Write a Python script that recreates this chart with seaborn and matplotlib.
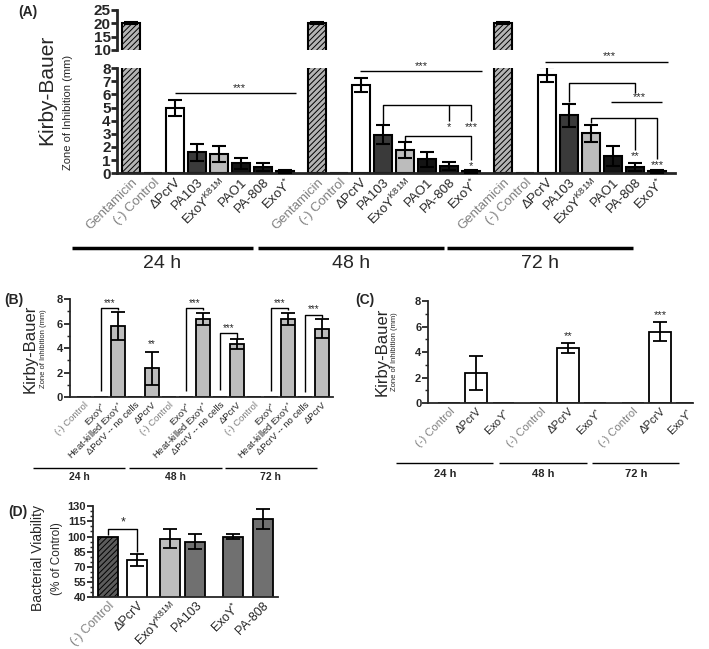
import numpy as np
import pandas as pd
import seaborn as sns
import matplotlib.pyplot as plt
from matplotlib.ticker import MultipleLocator

sns.set_theme(style="ticks")
plt.rcParams['font.family'] = ['Liberation Sans', 'DejaVu Sans']
plt.rcParams['mathtext.fontset'] = 'custom'
plt.rcParams['mathtext.rm'] = 'Liberation Sans'
plt.rcParams['mathtext.it'] = 'Liberation Sans:italic'
plt.rcParams['mathtext.bf'] = 'Liberation Sans:bold'
plt.rcParams['hatch.linewidth'] = 0.7

# ---- dados painel A (Kirby-Bauer, 24/48/72 h) ----
A_STRAINS = ["Gentamicin", "(-) Control", "ΔPcrV", "PA103", "ExoY K81M", "PAO1", "PA-808", "ExoY*"]
A_LABELS = ["Gentamicin", "(-) Control", "ΔPcrV", "PA103", "ExoY$^{\\mathrm{K81M}}$", "PAO1", "PA-808", "ExoY$^{*}$"]
A_24 = [20.0, 0.0, 4.95, 1.6, 1.45, 0.75, 0.5, 0.15]
A_24_ERR = [0.3, 0.0, 0.6, 0.65, 0.6, 0.4, 0.3, 0.1]
A_48 = [20.0, 0.0, 6.7, 2.95, 1.75, 1.05, 0.53, 0.15]
A_48_ERR = [0.3, 0.0, 0.55, 0.7, 0.6, 0.55, 0.3, 0.1]
A_72 = [20.0, 0.0, 7.5, 4.4, 3.05, 1.3, 0.5, 0.15]
A_72_ERR = [0.3, 0.0, 0.55, 0.9, 0.65, 0.75, 0.3, 0.1]
TIMES = ["24 h", "48 h", "72 h"]

# ---- painel B ----
B_STRAINS = ["(-) Control", "ExoY$^{*}$", "Heat-killed ExoY$^{*}$", "ΔPcrV -- no cells", "ΔPcrV"]
B_24 = [0.0, 0.0, 5.8, 0.0, 2.35]
B_24_ERR = [0.0, 0.0, 1.15, 0.0, 1.35]
B_48 = [0.0, 0.0, 6.4, 0.0, 4.35]
B_48_ERR = [0.0, 0.0, 0.5, 0.0, 0.4]
B_72 = [0.0, 0.0, 6.4, 0.0, 5.6]
B_72_ERR = [0.0, 0.0, 0.5, 0.0, 0.75]

# ---- painel C ----
C_STRAINS = ["(-) Control", "ΔPcrV", "ExoY$^{*}$"]
C_24 = [0.0, 2.35, 0.0]
C_24_ERR = [0.0, 1.35, 0.0]
C_48 = [0.0, 4.35, 0.0]
C_48_ERR = [0.0, 0.4, 0.0]
C_72 = [0.0, 5.6, 0.0]
C_72_ERR = [0.0, 0.75, 0.0]

# ---- painel D (viabilidade) ----
D_STRAINS = ["(-) Control", "ΔPcrV", "ExoY K81M", "PA103", "ExoY*", "PA-808"]
D_LABELS = ["(-) Control", "ΔPcrV", "ExoY$^{\\mathrm{K81M}}$", "PA103", "ExoY$^{*}$", "PA-808"]
D_VAL = [100.0, 77.0, 98.0, 95.0, 100.0, 117.0]
D_ERR = [0.0, 6.0, 9.5, 7.0, 2.7, 10.0]

A_COLORS = {"Gentamicin": "#b4b4b4", "(-) Control": "white", "ΔPcrV": "white", "PA103": "#3a3a3a",
            "ExoY K81M": "#bcbcbc", "PAO1": "#141414", "PA-808": "#141414", "ExoY*": "#141414"}
D_COLORS = {"(-) Control": "#5c5c5c", "ΔPcrV": "white", "ExoY K81M": "#bdbdbd",
            "PA103": "#707070", "ExoY*": "#707070", "PA-808": "#707070"}
GRAY_TXT = "#808080"


def bars(ax, df, width, palette=None, color=None, lw=1.5):
    w = width / np.diff(np.unique(df["pos"])).min()
    if palette is not None:
        sns.barplot(data=df, x="pos", y="val", hue="strain", palette=palette, dodge=False,
                    native_scale=True, width=w, saturation=1, edgecolor="black",
                    linewidth=lw, legend=False, errorbar=None, ax=ax)
    else:
        sns.barplot(data=df, x="pos", y="val", color=color, native_scale=True, width=w,
                    saturation=1, edgecolor="black", linewidth=lw, errorbar=None, ax=ax)
    m = df["err"] > 0
    ax.errorbar(df.loc[m, "pos"], df.loc[m, "val"], yerr=df.loc[m, "err"], fmt="none",
                ecolor="black", elinewidth=lw, capsize=5, capthick=lw, zorder=3)


def line(ax, pts, lw=1.0):
    xs, ys = zip(*pts)
    ax.plot(xs, ys, color="black", lw=lw, clip_on=False, solid_capstyle="butt")


def star(ax, x, y, s, va="bottom", fs=8):
    ax.text(x, y, s, ha="center", va=va, fontsize=fs, clip_on=False)


def style_axis(ax, xlim, lw=1.5, ysize=8):
    sns.despine(ax=ax)
    ax.set_xlim(*xlim)
    ax.set_xlabel("")
    ax.set_ylabel("")
    for s in ("left", "bottom"):
        ax.spines[s].set_linewidth(lw)
    ax.tick_params(axis="y", width=lw, length=4, labelsize=ysize, pad=1)
    ax.tick_params(axis="y", which="minor", width=lw * 0.8, length=2.5)
    ax.tick_params(axis="x", length=0, pad=2)
    for t in ax.get_yticklabels():
        t.set_fontweight("bold")


def groups(ax, spans, y_line, y_text, fs, lw, bold=False):
    tr = ax.get_xaxis_transform()
    for (x0, x1), lab in zip(spans, TIMES):
        ax.plot([x0, x1], [y_line, y_line], color="black", lw=lw, transform=tr,
                clip_on=False, solid_capstyle="butt")
        ax.text((x0 + x1) / 2, y_text, lab, transform=tr, ha="center", va="center",
                fontsize=fs, fontweight="bold" if bold else "normal")


fig = plt.figure(figsize=(7.09, 6.49), dpi=100)

# ================= (A) =================
A_GAP = 8.45
df_a = pd.DataFrame({
    "pos": [i + g * A_GAP for g in range(3) for i in range(8)],
    "val": A_24 + A_48 + A_72,
    "err": A_24_ERR + A_48_ERR + A_72_ERR,
    "strain": A_STRAINS * 3,
})
axA_top = fig.add_axes([0.165, 0.923, 0.787, 0.062])
axA = fig.add_axes([0.165, 0.733, 0.787, 0.162])
for ax in (axA_top, axA):
    bars(ax, df_a, 0.83, palette=A_COLORS)
    for p in ax.patches:
        cx = p.get_x() + p.get_width() / 2
        if np.min(np.abs(cx - np.array([0, A_GAP, 2 * A_GAP]))) < 0.05:
            p.set_hatch("//////")

axA_top.set_ylim(10, 25)
axA_top.set_yticks([10, 15, 20, 25])
style_axis(axA_top, (-0.64, 24.7), lw=2, ysize=11)
axA_top.spines["bottom"].set_visible(False)
axA_top.set_xticks([])

axA.set_ylim(0, 8)
axA.set_yticks(range(9))
axA.set_xticks(df_a["pos"], labels=A_LABELS * 3, rotation=45, ha="right",
               rotation_mode="anchor", fontsize=9.5)
style_axis(axA, (-0.64, 24.7), lw=2, ysize=11)
axA.tick_params(axis="y", pad=0.5)
axA_top.tick_params(axis="y", pad=0.5)
for t, s in zip(axA.get_xticklabels(), A_STRAINS * 3):
    if s in ("Gentamicin", "(-) Control"):
        t.set_color(GRAY_TXT)

groups(axA, [(-2.7, 5.55), (5.77, 14.2), (14.36, 22.8)], -0.714, -0.86, 14, 2.5)


def xa(g, i):
    return i + g * A_GAP


# 24 h
line(axA, [(xa(0, 2), 6.1), (xa(0, 7) + 0.5, 6.1)])
star(axA, 4.9, 6.1, "***")
# 48 h
line(axA, [(xa(1, 2) - 0.05, 7.8), (xa(1, 7) + 0.5, 7.8)])
star(axA, 13.2, 7.8, "***")
line(axA, [(xa(1, 3), 3.75), (xa(1, 3), 5.2), (xa(1, 7), 5.2), (xa(1, 7), 4.0)])
line(axA, [(xa(1, 6), 5.2), (xa(1, 6), 4.0)])
star(axA, xa(1, 6), 3.9, "*", va="top")
star(axA, xa(1, 7), 3.9, "***", va="top")
line(axA, [(xa(1, 4), 2.45), (xa(1, 4), 2.8), (xa(1, 7), 2.8), (xa(1, 7), 1.0)])
star(axA, xa(1, 7), 0.9, "*", va="top")
# 72 h
line(axA, [(xa(2, 2) - 0.1, 8.5), (xa(2, 7) + 0.5, 8.5)])
star(axA, 21.7, 8.5, "***")
line(axA, [(xa(2, 3), 5.45), (xa(2, 3), 6.9), (xa(2, 6), 6.9), (xa(2, 6), 6.1)])
line(axA, [(21.8, 5.4), (24.1, 5.4)])
star(axA, xa(2, 6) + 0.2, 5.4, "***")
line(axA, [(xa(2, 4), 3.8), (xa(2, 4), 4.2), (xa(2, 7), 4.2), (xa(2, 7), 1.05)])
line(axA, [(xa(2, 6), 4.2), (xa(2, 6), 1.75)])
star(axA, xa(2, 6), 1.7, "**", va="top")
star(axA, xa(2, 7), 1.0, "***", va="top")

fig.text(0.066, 0.861, "Kirby-Bauer", rotation=90, ha="center", va="center", fontsize=15)
fig.text(0.096, 0.826, "Zone of Inhibition (mm)", rotation=90, ha="center", va="center", fontsize=8)

# ================= (B) =================
df_b = pd.DataFrame({
    "pos": np.arange(15, dtype=float),
    "val": B_24 + B_48 + B_72,
    "err": B_24_ERR + B_48_ERR + B_72_ERR,
})
axB = fig.add_axes([0.0987, 0.388, 0.371, 0.151])
bars(axB, df_b, 0.85, color="#bdbdbd", lw=1.3)
axB.set_ylim(0, 8)
axB.set_yticks([0, 2, 4, 6, 8])
axB.yaxis.set_minor_locator(MultipleLocator(1))
axB.set_xticks(df_b["pos"], labels=B_STRAINS * 3, rotation=45, ha="right",
               rotation_mode="anchor", fontsize=6.8)
style_axis(axB, (-0.82, 14.65), lw=1.3, ysize=8)
for t, s in zip(axB.get_xticklabels(), B_STRAINS * 3):
    if s == "(-) Control":
        t.set_color(GRAY_TXT)
groups(axB, [(-3.0, 2.41), (2.65, 8.12), (8.29, 13.7)], -0.724, -0.816, 7.5, 1.0, bold=True)

for g in range(3):
    o = 5 * g
    line(axB, [(o + 1, 0.5), (o + 1, 7.3), (o + 2, 7.3), (o + 2, 7.1)])
    star(axB, o + 1.5, 7.3, "***", fs=7)
star(axB, 4, 3.9, "**", fs=7)
line(axB, [(8, 0.55), (8, 5.2), (9, 5.2), (9, 4.85)])
star(axB, 8.5, 5.2, "***", fs=7)
line(axB, [(13, 0.45), (13, 6.75), (14, 6.75), (14, 6.5)])
star(axB, 13.5, 6.75, "***", fs=7)

fig.text(0.042, 0.463, "Kirby-Bauer", rotation=90, ha="center", va="center", fontsize=12)
fig.text(0.061, 0.463, "Zone of Inhibition (mm)", rotation=90, ha="center", va="center", fontsize=5.5)

# ================= (C) =================
C_GAP = 3.4
df_c = pd.DataFrame({
    "pos": [i + g * C_GAP for g in range(3) for i in range(3)],
    "val": C_24 + C_48 + C_72,
    "err": C_24_ERR + C_48_ERR + C_72_ERR,
})
axC = fig.add_axes([0.604, 0.379, 0.374, 0.157])
bars(axC, df_c, 0.8, color="white", lw=1.3)
axC.set_ylim(0, 8)
axC.set_yticks([0, 2, 4, 6, 8])
axC.yaxis.set_minor_locator(MultipleLocator(1))
axC.set_xticks(df_c["pos"], labels=C_STRAINS * 3, rotation=45, ha="right",
               rotation_mode="anchor", fontsize=8)
style_axis(axC, (-0.78, 9.04), lw=1.3, ysize=8)
for t, s in zip(axC.get_xticklabels(), C_STRAINS * 3):
    if s == "(-) Control":
        t.set_color(GRAY_TXT)
groups(axC, [(-1.96, 1.63), (1.85, 5.11), (5.3, 8.52)], -0.588, -0.696, 8, 1.0, bold=True)
star(axC, 1 + C_GAP, 4.85, "**", fs=8)
star(axC, 1 + 2 * C_GAP, 6.5, "***", fs=8)

fig.text(0.539, 0.458, "Kirby-Bauer", rotation=90, ha="center", va="center", fontsize=12)
fig.text(0.557, 0.458, "Zone of Inhibition (mm)", rotation=90, ha="center", va="center", fontsize=5.5)

# ================= (D) =================
df_d = pd.DataFrame({
    "pos": [0.0, 1.04, 2.2, 3.1, 4.45, 5.5],
    "val": D_VAL,
    "err": D_ERR,
    "strain": D_STRAINS,
})
axD = fig.add_axes([0.131, 0.080, 0.261, 0.140])
bars(axD, df_d, 0.71, palette=D_COLORS, lw=1.3)
for p in axD.patches:
    if abs(p.get_x() + p.get_width() / 2) < 0.05:
        p.set_hatch("//////")
axD.set_ylim(40, 130)
axD.set_yticks(range(40, 131, 15))
axD.yaxis.set_minor_locator(MultipleLocator(5))
axD.set_xticks(df_d["pos"], labels=D_LABELS, rotation=45, ha="right",
               rotation_mode="anchor", fontsize=9)
style_axis(axD, (-0.54, 6.04), lw=1.3, ysize=8)
axD.get_xticklabels()[0].set_color(GRAY_TXT)
line(axD, [(0, 101), (0, 107.5), (1.04, 107.5), (1.04, 85)])
star(axD, 0.52, 107.5, "*", fs=9)

fig.text(0.054, 0.140, "Bacterial Viability", rotation=90, ha="center", va="center", fontsize=10)
fig.text(0.080, 0.140, "(% of Control)", rotation=90, ha="center", va="center", fontsize=8.5)

# letras dos painéis
fig.text(0.039, 0.982, "(A)", fontsize=10, fontweight="bold", ha="center", va="center")
fig.text(0.020, 0.538, "(B)", fontsize=10, fontweight="bold", ha="center", va="center")
fig.text(0.515, 0.538, "(C)", fontsize=10, fontweight="bold", ha="center", va="center")
fig.text(0.025, 0.211, "(D)", fontsize=10, fontweight="bold", ha="center", va="center")

fig.savefig("out.png", dpi=100)
